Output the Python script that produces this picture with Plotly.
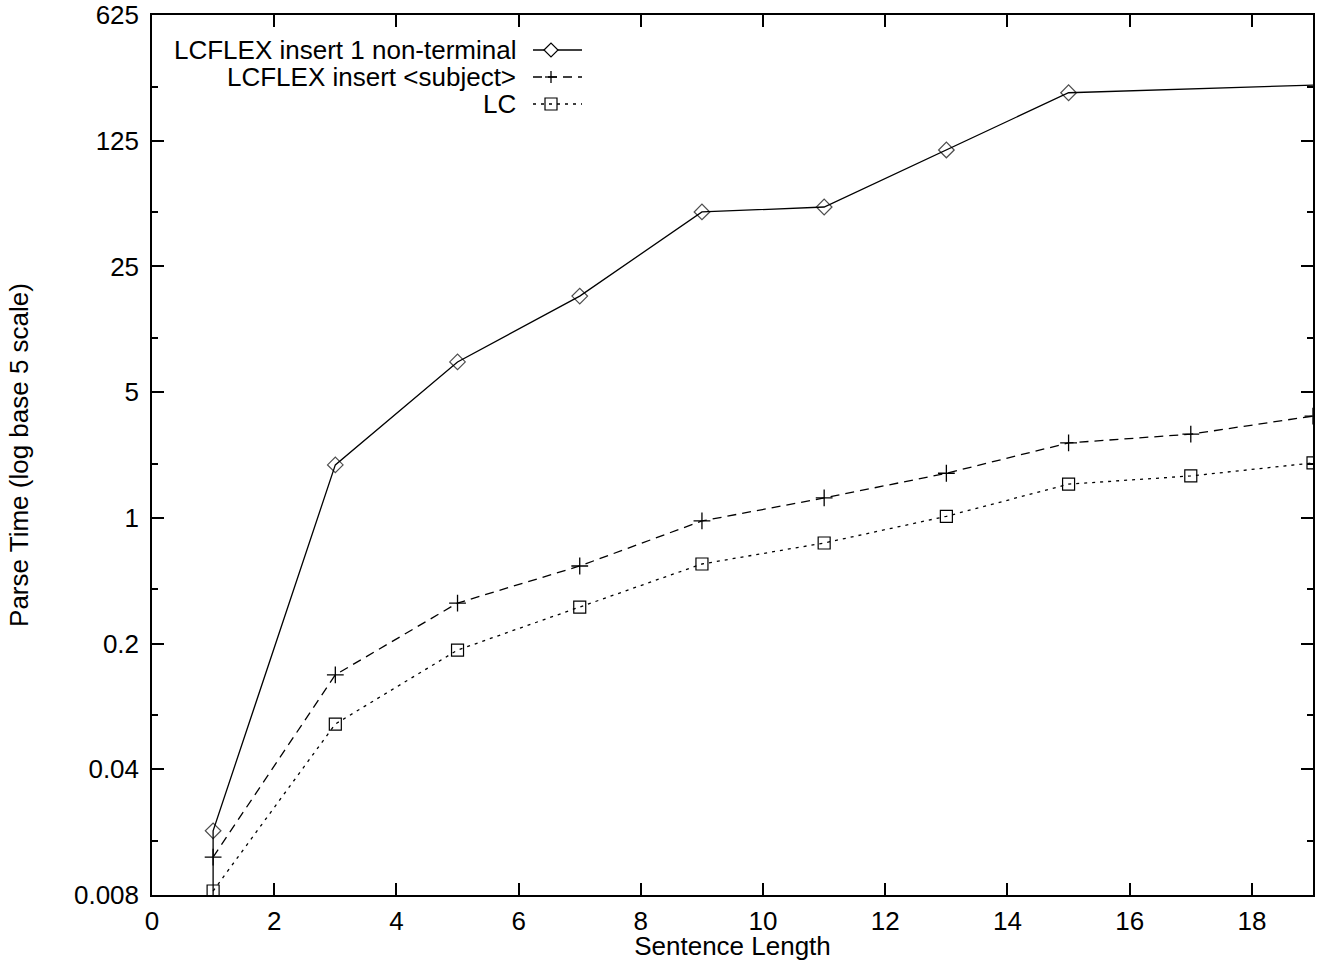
import math
import plotly.graph_objects as go

# ---- data ----
sentence_length_1 = [1, 1, 3, 5, 7, 9, 11, 13, 15, 19]
insert_nonterminal = [0.008, 0.0182, 1.97, 7.36, 17.1, 50.2, 53.5, 111, 231, 255]

sentence_length_2 = [1, 3, 5, 7, 9, 11, 13, 15, 17, 19]
insert_subject = [0.0130, 0.134, 0.336, 0.540, 0.961, 1.29, 1.77, 2.61, 2.92, 3.68]

sentence_length_3 = [1, 3, 5, 7, 9, 11, 13, 15, 17, 19]
lc_times = [0.00842, 0.0714, 0.184, 0.319, 0.554, 0.725, 1.02, 1.54, 1.71, 2.02]

series_names = ["LCFLEX insert 1 non-terminal", "LCFLEX insert <subject>", "LC"]

x_ticks = [0, 2, 4, 6, 8, 10, 12, 14, 16, 18]
y_ticks = [0.008, 0.04, 0.2, 1, 5, 25, 125, 625]
y_tick_labels = ["0.008", "0.04", "0.2", "1", "5", "25", "125", "625"]
y_minor_ticks = [0.016, 0.08, 0.4, 2, 10, 50, 250]

# ---- layout constants ----
W, H = 1320, 961
L, R, T, B = 152, 1313, 15, 895
FONT = "Liberation Sans, Arial, Helvetica, sans-serif"
FS = 26


def px_x(px):
    return (px - L) / (R - L)


def px_y(py):
    return (B - py) / (B - T)


fig = go.Figure()

# series 1: solid, diamonds (first point is the vertical drop at x=1, last point at border)
sizes1 = [0] + [12] * (len(insert_nonterminal) - 2) + [0]
fig.add_trace(go.Scatter(
    x=sentence_length_1, y=insert_nonterminal, mode="lines+markers",
    name=series_names[0], showlegend=False,
    line=dict(color="black", width=1.3),
    marker=dict(symbol="diamond-open", size=sizes1, color="black", line=dict(width=1.2, color="black")),
))
fig.add_trace(go.Scatter(
    x=sentence_length_2, y=insert_subject, mode="lines+markers",
    name=series_names[1], showlegend=False,
    line=dict(color="black", width=1.3, dash="9px,6px"),
    marker=dict(symbol="cross-thin-open", size=12, color="black", line=dict(width=1.3, color="black")),
))
fig.add_trace(go.Scatter(
    x=sentence_length_3, y=lc_times, mode="lines+markers",
    name=series_names[2], showlegend=False,
    line=dict(color="black", width=1.3, dash="3px,5px"),
    marker=dict(symbol="square-open", size=12, color="black", line=dict(width=1.2, color="black")),
))

# ---- gnuplot-style legend: right-aligned text, key sample on the right ----
shapes = []
annotations = []
legend_rows = [50, 77, 104]
dashes = ["solid", "9px,6px", "3px,5px"]
key_x0, key_x1, key_mark = 533, 582, 551
for i, (name, row) in enumerate(zip(series_names, legend_rows)):
    annotations.append(dict(
        x=px_x(518), y=px_y(row), xref="paper", yref="paper",
        text=name, showarrow=False, xanchor="right", yanchor="middle",
        font=dict(family=FONT, size=FS, color="black"),
    ))
    shapes.append(dict(
        type="line", xref="paper", yref="paper",
        x0=px_x(key_x0), x1=px_x(key_x1), y0=px_y(row), y1=px_y(row),
        line=dict(color="black", width=1.3, dash=dashes[i]),
    ))
    cx, cy = key_mark, row
    if i == 0:
        d = 7
        path = "M {} {} L {} {} L {} {} L {} {} Z".format(
            px_x(cx - d), px_y(cy), px_x(cx), px_y(cy - d),
            px_x(cx + d), px_y(cy), px_x(cx), px_y(cy + d))
        shapes.append(dict(type="path", xref="paper", yref="paper", path=path,
                           fillcolor="white", line=dict(color="black", width=1.2)))
    elif i == 1:
        d = 6
        shapes.append(dict(type="line", xref="paper", yref="paper",
                           x0=px_x(cx - d), x1=px_x(cx + d), y0=px_y(cy), y1=px_y(cy),
                           line=dict(color="black", width=1.3)))
        shapes.append(dict(type="line", xref="paper", yref="paper",
                           x0=px_x(cx), x1=px_x(cx), y0=px_y(cy - d), y1=px_y(cy + d),
                           line=dict(color="black", width=1.3)))
    else:
        d = 6
        shapes.append(dict(type="rect", xref="paper", yref="paper",
                           x0=px_x(cx - d), x1=px_x(cx + d), y0=px_y(cy - d), y1=px_y(cy + d),
                           fillcolor="rgba(0,0,0,0)", line=dict(color="black", width=1.2)))

axis_common = dict(
    showline=True, linecolor="black", linewidth=1.5, mirror="ticks",
    ticks="inside", ticklen=12, tickwidth=1.5, tickcolor="black",
    showgrid=False, zeroline=False,
    tickfont=dict(family=FONT, size=FS, color="black"),
)

fig.update_layout(
    width=W, height=H,
    margin=dict(l=L, r=W - R, t=T, b=H - B, autoexpand=False),
    paper_bgcolor="white", plot_bgcolor="white",
    font=dict(family=FONT, size=FS, color="black"),
    shapes=shapes, annotations=annotations,
    xaxis=dict(
        range=[0, 19], tickmode="array", tickvals=x_ticks,
        ticktext=[str(v) for v in x_ticks],
        title=dict(text="Sentence Length", standoff=2,
                   font=dict(family=FONT, size=FS, color="black")),
        ticklabelstandoff=2,
        **axis_common,
    ),
    yaxis=dict(
        type="log", range=[math.log10(0.008), math.log10(625)],
        tickmode="array", tickvals=y_ticks, ticktext=y_tick_labels,
        minor=dict(tickmode="array", tickvals=y_minor_ticks, ticks="inside",
                   ticklen=6, tickwidth=1.5, tickcolor="black", showgrid=False),
        title=dict(text="Parse Time (log base 5 scale)", standoff=38,
                   font=dict(family=FONT, size=FS, color="black")),
        ticklabelstandoff=6,
        **axis_common,
    ),
)

fig.write_html("out.html")
